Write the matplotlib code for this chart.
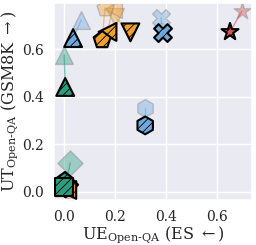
import numpy as np
import matplotlib.pyplot as plt
import seaborn as sns

sns.set_theme(style='darkgrid')
plt.rcParams['font.family'] = ['DejaVu Serif']
plt.rcParams['mathtext.fontset'] = 'dejavuserif'
plt.rcParams['hatch.linewidth'] = 0.6

# each method: before editing (faded) -> after editing (solid)
markers = ['*', 'X', 'h', '^', '^', 'v', '<', 'p', 'D', 'p', '<', 's']
colors = ['#d9534f', '#6fa8dc', '#6fa8dc', '#6fa8dc', '#2a9d7f', '#f0a030',
          '#f0a030', '#f0a030', '#2a9d7f', '#2a9d7f', '#f0a030', '#2a9d7f']
ue_before = [0.698, 0.380, 0.318, 0.067, 0.000, 0.200, 0.190, 0.160, 0.024, 0.000, 0.000, 0.000]
ut_before = [0.762, 0.733, 0.354, 0.724, 0.577, 0.737, 0.770, 0.775, 0.122, 0.050, 0.000, 0.020]
ue_after = [0.651, 0.388, 0.318, 0.035, 0.004, 0.260, 0.170, 0.149, 0.005, 0.002, 0.012, 0.000]
ut_after = [0.674, 0.669, 0.280, 0.648, 0.442, 0.672, 0.674, 0.640, 0.030, 0.045, 0.008, 0.020]

fig = plt.figure(figsize=(2.56, 2.45), dpi=100)
ax = fig.add_axes([0.211, 0.184, 0.773, 0.804])

for i in range(len(markers)):
    ax.plot([ue_before[i], ue_after[i]], [ut_before[i], ut_after[i]],
            color=colors[i], lw=1, alpha=0.6, zorder=2)
    ax.scatter(ue_before[i], ut_before[i], marker=markers[i], s=165,
               color=colors[i], edgecolor='grey', linewidth=1, alpha=0.4, zorder=2)
for i in range(len(markers)):
    ax.scatter(ue_after[i], ut_after[i], marker=markers[i], s=165,
               facecolor=colors[i], edgecolor='black', linewidth=1.5,
               hatch='////', zorder=3)

ax.set_xlim(-0.04, 0.737)
ax.set_ylim(-0.034, 0.796)
ax.set_xticks([0.0, 0.2, 0.4, 0.6])
ax.set_yticks([0.0, 0.2, 0.4, 0.6])
ax.tick_params(labelsize=10, pad=1.5)
ax.set_xlabel(r'UE$_{\mathrm{Open\text{-}QA}}$ (ES $\leftarrow$)', fontsize=11.5, labelpad=0)
ax.set_ylabel(r'UT$_{\mathrm{Open\text{-}QA}}$ (GSM8K $\rightarrow$)', fontsize=11.5, labelpad=1)

fig.savefig('out.png', dpi=100)
